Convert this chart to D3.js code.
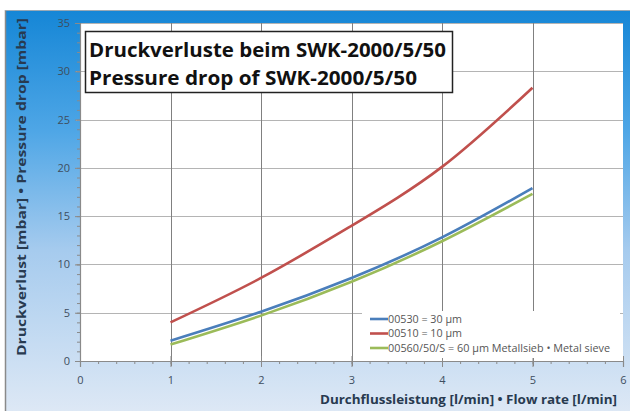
<!DOCTYPE html>
<html><head><meta charset="utf-8">
<script src="https://cdn.jsdelivr.net/npm/d3@7"></script>
<style>html,body{margin:0;padding:0;background:#fff;}svg{display:block;}</style>
</head><body>
<svg id="c" width="630" height="411"></svg>
<script>
const flowRates = [1, 2, 3, 4, 5];
const series30 = [2.1, 5.1, 8.6, 12.8, 17.9];
const series10 = [4.0, 8.6, 14.0, 20.1, 28.3];
const series60 = [1.7, 4.7, 8.2, 12.4, 17.3];
const seriesNames = ["00530 = 30 µm", "00510 = 10 µm", "00560/50/S = 60 µm Metallsieb • Metal sieve"];
const seriesColors = ["#4a7ebb", "#c0504d", "#9bbb59"];
const xTicks = [0, 1, 2, 3, 4, 5, 6];
const yTicks = [0, 5, 10, 15, 20, 25, 30, 35];
const titleLines = ["Druckverluste beim SWK-2000/5/50", "Pressure drop of SWK-2000/5/50"];
const xTitle = "Durchflussleistung [l/min]  •  Flow rate [l/min]";
const yTitle = "Druckverlust [mbar]  •  Pressure drop [mbar]";

(function(){
const svg = d3.select("#c");
const font = "'Open Sans', 'Liberation Sans', sans-serif";

const defs = svg.append("defs");
const g = defs.append("linearGradient").attr("id","bg").attr("x1",0).attr("y1",0).attr("x2",0).attr("y2",1);
g.append("stop").attr("offset","0%").attr("stop-color","#1586d6");
g.append("stop").attr("offset","30%").attr("stop-color","#4ea6e6");
g.append("stop").attr("offset","60%").attr("stop-color","#a6cbee");
g.append("stop").attr("offset","100%").attr("stop-color","#dde8f5");
svg.append("rect").attr("x",5).attr("y",10).attr("width",625).attr("height",401).attr("fill","url(#bg)");
svg.append("line").attr("x1",5.5).attr("x2",5.5).attr("y1",10).attr("y2",411).attr("stroke","#8a8a8a").attr("stroke-width",1.5);
svg.append("line").attr("x1",5).attr("x2",630).attr("y1",10.5).attr("y2",10.5).attr("stroke","#9aa9b5").attr("stroke-width",1);

const pl = 80, pr = 623, pt = 23, pb = 361;
const x = d3.scaleLinear().domain([0, 6]).range([pl, pr]);
const y = d3.scaleLinear().domain([0, 35]).range([pb, pt]);

svg.append("rect").attr("x",pl).attr("y",pt).attr("width",pr-pl).attr("height",pb-pt).attr("fill","#fff");

svg.append("g").selectAll("line").data(yTicks.filter(d=>d>0)).join("line")
  .attr("x1",pl-4).attr("x2",pr).attr("y1",d=>Math.round(y(d))+0.5).attr("y2",d=>Math.round(y(d))+0.5)
  .attr("stroke","#b4b4b4").attr("stroke-width",1.2);
svg.append("g").selectAll("line").data(xTicks.filter(d=>d>0&&d<6)).join("line")
  .attr("x1",d=>Math.round(x(d))+0.5).attr("x2",d=>Math.round(x(d))+0.5).attr("y1",pt).attr("y2",pb+5)
  .attr("stroke","#808080").attr("stroke-width",1);

const ya = svg.append("g").attr("transform",`translate(${pl},0)`)
  .call(d3.axisLeft(y).tickValues(yTicks).tickSize(5).tickPadding(5).tickFormat(d3.format("d")));
ya.select(".domain").attr("stroke","#8a8a8a").attr("stroke-width",1.2);
ya.selectAll(".tick line").attr("stroke","#8a8a8a");
ya.selectAll("text").attr("font-family",font).attr("font-size",11).attr("fill","#3e4e60");
const ym = svg.append("g").attr("transform",`translate(${pl},0)`)
  .call(d3.axisLeft(y).tickValues(d3.range(0,36,1)).tickSize(3).tickFormat(""));
ym.select(".domain").remove(); ym.selectAll(".tick line").attr("stroke","#8a8a8a");

const xa = svg.append("g").attr("transform",`translate(0,${pb})`)
  .call(d3.axisBottom(x).tickValues(xTicks).tickSize(6).tickPadding(9).tickFormat(d3.format("d")));
xa.select(".domain").attr("stroke","#8a8a8a").attr("stroke-width",1.2);
xa.selectAll(".tick line").attr("stroke","#8a8a8a").attr("y1",-5);
xa.selectAll("text").attr("font-family",font).attr("font-size",11).attr("fill","#3e4e60");
const xm = svg.append("g").attr("transform",`translate(0,${pb})`)
  .call(d3.axisBottom(x).tickValues(d3.range(0,6.01,0.2)).tickSize(3).tickFormat(""));
xm.select(".domain").remove(); xm.selectAll(".tick line").attr("stroke","#8a8a8a");

const all = [series30, series10, series60];
const line = d3.line().x((d,i)=>x(flowRates[i])).y(d=>y(d)).curve(d3.curveNatural);
const order = [2, 0, 1];
svg.append("g").selectAll("path").data(order).join("path")
  .attr("d", k=>line(all[k])).attr("fill","none")
  .attr("stroke",k=>seriesColors[k]).attr("stroke-width",2.6);

const lg = svg.append("g");
lg.append("rect").attr("x",362).attr("y",311).attr("width",258).attr("height",47).attr("fill","#fff");
const legLens = [74, 74, 222];
seriesNames.forEach((n,i)=>{
  const yy = 319 + i*14.5;
  lg.append("line").attr("x1",370).attr("x2",388).attr("y1",yy).attr("y2",yy).attr("stroke",seriesColors[i]).attr("stroke-width",2.6);
  lg.append("text").attr("x",388).attr("y",yy+3.5).attr("font-family",font).attr("font-size",10).attr("fill","#555")
    .attr("textLength",legLens[i]).attr("lengthAdjust","spacingAndGlyphs").text(n);
});

svg.append("rect").attr("x",85.5).attr("y",31.5).attr("width",367).attr("height",61).attr("fill","#fff").attr("stroke","#222").attr("stroke-width",1.5);
svg.append("text").attr("x",89).attr("y",57).attr("font-family",font).attr("font-weight","bold").attr("font-size",19).attr("fill","#111")
  .attr("textLength",357).attr("lengthAdjust","spacingAndGlyphs").text(titleLines[0]);
svg.append("text").attr("x",89).attr("y",85).attr("font-family",font).attr("font-weight","bold").attr("font-size",19).attr("fill","#111")
  .attr("textLength",328).attr("lengthAdjust","spacingAndGlyphs").text(titleLines[1]);

svg.append("text").attr("x",617).attr("y",404).attr("text-anchor","end").attr("font-family",font).attr("font-weight","bold")
  .attr("font-size",12).attr("fill","#283a50").attr("textLength",297).attr("lengthAdjust","spacingAndGlyphs").text(xTitle);
svg.append("text").attr("transform","translate(26,356) rotate(-90)").attr("font-family",font).attr("font-weight","bold")
  .attr("font-size",12).attr("fill","#283a50").attr("textLength",338).attr("lengthAdjust","spacingAndGlyphs").text(yTitle);
})();
</script>
</body></html>
